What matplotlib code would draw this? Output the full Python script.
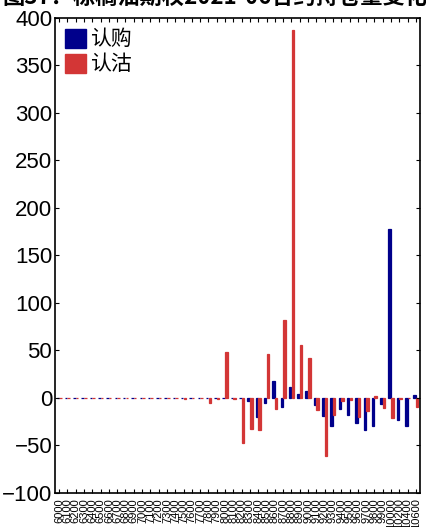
import matplotlib
matplotlib.use("Agg")
import matplotlib.pyplot as plt
import numpy as np
from matplotlib.patches import Patch

plt.rcParams['font.family'] = ['Liberation Sans', 'Noto Sans CJK SC', 'DejaVu Sans']

strikes = [str(s) for s in range(6000, 10000, 100)] + ['10000', '10200', '10400', '10600']

call_change = [0]*23 + [-3, -20, -5, 18, -9, 12, 4, 7, -7, -19, -29, -12, -18, -26, -34, -29, -6, 178, -23, -29, 3]
put_change = [0]*15 + [-1, 0, 0, -5, -1, 48, -1, -47, -33, -34, 46, -12, 82, 387, 56, 42, -13, -61, -18, -3, -2, -20, -14, 2, -11, -21, -1, 0, -10]

title = "图37：棕榈油期权2021-06合约持仓量变化"

navy = "#00008B"
red = "#D33636"

fig = plt.figure(figsize=(4.26, 5.27), dpi=100)
ax = fig.add_axes([0.129, 0.0645, 0.857, 0.9015])

x = np.arange(len(strikes))
w = 0.3
ax.bar(x - 0.16, call_change, width=w, color=navy, edgecolor=navy, linewidth=0.9)
ax.bar(x + 0.16, put_change, width=w, color=red, edgecolor=red, linewidth=0.9)

ax.set_xlim(-0.5, len(strikes) - 0.5)
ax.set_ylim(-100, 400)
ax.set_yticks(range(-100, 401, 50))
ax.set_xticks(x)
ax.set_xticklabels(strikes, rotation=90, fontsize=8)
ax.tick_params(axis='y', labelsize=16, direction='in', right=True, length=3, pad=2)
ax.tick_params(axis='x', direction='in', top=True, length=3, pad=4)
for s in ax.spines.values():
    s.set_linewidth(1.2)

handles = [Patch(facecolor=navy, edgecolor=navy), Patch(facecolor=red, edgecolor=red)]
ax.legend(handles, ['认购', '认沽'], loc='upper left', frameon=False,
          prop={'family': ['Noto Sans CJK SC'], 'size': 15},
          handlelength=1.0, handleheight=1.0, handletextpad=0.2,
          labelspacing=0.15, borderaxespad=0.2, borderpad=0.3)

fig.text(0.005, 1 - 4/527, title, fontsize=16, fontweight='bold',
         family=['Noto Sans CJK SC', 'DejaVu Sans'], ha='left', va='baseline')

fig.savefig("out.png", dpi=100)
